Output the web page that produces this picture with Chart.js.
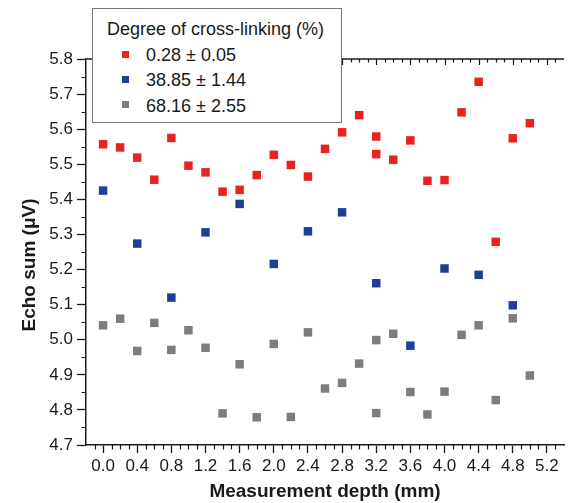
<!DOCTYPE html>
<html>
<head>
<meta charset="utf-8">
<title>Echo sum vs measurement depth</title>
<script src="https://cdn.jsdelivr.net/npm/chart.js@4.4.1/dist/chart.umd.min.js"></script>
<style>
  html, body { margin: 0; padding: 0; background: #fff; }
  #wrap { position: relative; width: 570px; height: 503px; }
  #legend {
    position: absolute; left: 92px; top: 8px; width: 248px; height: 113px;
    border: 1.3px solid #777; background: #fff;
    font-family: "Liberation Sans", Arial, sans-serif; color: #1a1a1a;
  }
  #legend .ttl { position: absolute; left: 14px; top: 10px; font-size: 18px; white-space: nowrap; }
  #legend .row { position: absolute; left: 29px; height: 22px; line-height: 22px; font-size: 18px; white-space: nowrap; }
  #legend .sw { display: inline-block; width: 7px; height: 7px; margin-right: 17px; vertical-align: middle; position: relative; top: -2px; }
</style>
</head>
<body>
<div id="wrap">
  <canvas id="chartEcho" width="570" height="503"></canvas>
  <div id="legend"></div>
</div>
<script>
// dados
const LEGEND_TITLE = "Degree of cross-linking (%)";
const SERIES_LABELS = ["0.28 \u00b1 0.05", "38.85 \u00b1 1.44", "68.16 \u00b1 2.55"];
const SERIES_COLORS = ["#e8231e", "#1f3e98", "#7d7d7d"];

const RED_X = [0.0, 0.2, 0.4, 0.6, 0.8, 1.0, 1.2, 1.4, 1.6, 1.8, 2.0, 2.2, 2.4, 2.6, 2.8, 3.0, 3.2, 3.2, 3.4, 3.6, 3.8, 4.0, 4.2, 4.4, 4.6, 4.8, 5.0];
const RED_Y = [5.557, 5.548, 5.519, 5.456, 5.575, 5.496, 5.477, 5.422, 5.427, 5.469, 5.527, 5.498, 5.465, 5.544, 5.591, 5.640, 5.579, 5.529, 5.513, 5.568, 5.453, 5.455, 5.648, 5.735, 5.279, 5.574, 5.617];

const BLUE_X = [0.0, 0.4, 0.8, 1.2, 1.6, 2.0, 2.4, 2.8, 3.2, 3.6, 4.0, 4.4, 4.8];
const BLUE_Y = [5.425, 5.274, 5.120, 5.306, 5.387, 5.216, 5.309, 5.363, 5.161, 4.983, 5.203, 5.185, 5.098];

const GRAY_X = [0.0, 0.2, 0.4, 0.6, 0.8, 1.0, 1.2, 1.4, 1.6, 1.8, 2.0, 2.2, 2.4, 2.6, 2.8, 3.0, 3.2, 3.2, 3.4, 3.6, 3.8, 4.0, 4.2, 4.4, 4.6, 4.8, 5.0];
const GRAY_Y = [5.041, 5.060, 4.968, 5.048, 4.971, 5.027, 4.977, 4.790, 4.930, 4.779, 4.988, 4.780, 5.021, 4.861, 4.877, 4.932, 4.999, 4.791, 5.017, 4.851, 4.787, 4.852, 5.014, 5.041, 4.828, 5.061, 4.898];

const X_TICKS = [0.0, 0.4, 0.8, 1.2, 1.6, 2.0, 2.4, 2.8, 3.2, 3.6, 4.0, 4.4, 4.8, 5.2];
const Y_TICKS = [4.7, 4.8, 4.9, 5.0, 5.1, 5.2, 5.3, 5.4, 5.5, 5.6, 5.7, 5.8];

const X_TITLE = "Measurement depth (mm)";
const Y_TITLE = "Echo sum (\u03bcV)";

const FONT = "'Liberation Sans', Arial, Helvetica, sans-serif";
const AXIS_COLOR = "#1a1a1a";

function pares(xs, ys) {
  return xs.map(function (x, i) { return { x: x, y: ys[i] }; });
}

// eixo de cima, ticks menores e título do eixo y
const decoEixos = {
  id: "decoEixos",
  afterDraw: function (chart) {
    var ctx = chart.ctx;
    var a = chart.chartArea;
    var sx = chart.scales.x;
    var sy = chart.scales.y;
    ctx.save();
    ctx.strokeStyle = AXIS_COLOR;
    ctx.lineWidth = 1.5;
    ctx.beginPath();
    ctx.moveTo(a.left, a.top);
    ctx.lineTo(a.right, a.top);
    ctx.stroke();

    ctx.lineWidth = 1.2;
    ctx.beginPath();
    for (var i = -1; i <= 53; i++) {
      var px = Math.round(sx.getPixelForValue(i / 10)) + 0.5;
      var major = i >= 0 && i % 4 === 0;
      // topo, para dentro
      ctx.moveTo(px, a.top);
      ctx.lineTo(px, a.top + (major ? 6 : 3.5));
      // embaixo, menores
      if (!major) {
        ctx.moveTo(px, a.bottom);
        ctx.lineTo(px, a.bottom + 4.5);
      }
    }
    for (var j = 0; j < 11; j++) {
      var py = Math.round(sy.getPixelForValue(4.75 + j / 10)) + 0.5;
      ctx.moveTo(a.left, py);
      ctx.lineTo(a.left - 4.5, py);
    }
    ctx.stroke();

    ctx.translate(30, 265);
    ctx.rotate(-Math.PI / 2);
    ctx.fillStyle = AXIS_COLOR;
    ctx.font = "bold 19px " + FONT;
    ctx.textAlign = "center";
    ctx.textBaseline = "middle";
    ctx.fillText(Y_TITLE, 0, 0);
    ctx.restore();
  }
};

document.addEventListener("DOMContentLoaded", function () {
  if (typeof Chart === "undefined") {
    console.error("Chart.js não carregou");
    return;
  }
  Chart.defaults.font.family = FONT;
  Chart.defaults.color = AXIS_COLOR;

  var series = [pares(RED_X, RED_Y), pares(BLUE_X, BLUE_Y), pares(GRAY_X, GRAY_Y)];

  var ctx = document.getElementById("chartEcho").getContext("2d");
  var chart = new Chart(ctx, {
    type: "scatter",
    data: {
      datasets: series.map(function (d, i) {
        return {
          label: SERIES_LABELS[i],
          data: d,
          pointStyle: "rect",
          pointRadius: 6,
          pointHoverRadius: 6,
          borderWidth: 0,
          backgroundColor: SERIES_COLORS[i],
          borderColor: SERIES_COLORS[i]
        };
      })
    },
    options: {
      responsive: false,
      animation: false,
      layout: { padding: { top: 59, right: 1, left: 0, bottom: 0 } },
      plugins: {
        legend: { display: false },
        tooltip: { enabled: false }
      },
      scales: {
        x: {
          type: "linear",
          min: -0.2,
          max: 5.4,
          afterFit: function (s) { s.height = 58; },
          afterBuildTicks: function (s) {
            s.ticks = X_TICKS.map(function (v) { return { value: v }; });
          },
          ticks: {
            font: { size: 17 },
            padding: 3,
            maxRotation: 0,
            autoSkip: false,
            callback: function (v) { return Number(v).toFixed(1); }
          },
          grid: {
            drawOnChartArea: false,
            drawTicks: true,
            tickLength: 8,
            tickColor: AXIS_COLOR,
            tickWidth: 1.3
          },
          border: { display: true, color: AXIS_COLOR, width: 1.5 },
          title: {
            display: true,
            text: X_TITLE,
            font: { size: 19, weight: "bold" },
            padding: { top: 0, bottom: 0 }
          }
        },
        y: {
          type: "linear",
          min: 4.7,
          max: 5.8,
          afterFit: function (s) { s.width = 86; },
          afterBuildTicks: function (s) {
            s.ticks = Y_TICKS.map(function (v) { return { value: v }; });
          },
          ticks: {
            font: { size: 17 },
            padding: 4,
            autoSkip: false,
            callback: function (v) { return Number(v).toFixed(1); }
          },
          grid: {
            drawOnChartArea: false,
            drawTicks: true,
            tickLength: 9,
            tickColor: AXIS_COLOR,
            tickWidth: 1.3
          },
          border: { display: true, color: AXIS_COLOR, width: 1.5 }
        }
      }
    },
    plugins: [decoEixos]
  });

  // legenda em HTML por cima do gráfico
  var leg = document.getElementById("legend");
  var t = document.createElement("div");
  t.className = "ttl";
  t.textContent = LEGEND_TITLE;
  leg.appendChild(t);
  chart.data.datasets.forEach(function (ds, i) {
    var row = document.createElement("div");
    row.className = "row";
    row.style.top = (35 + i * 25.3) + "px";
    var sw = document.createElement("span");
    sw.className = "sw";
    sw.style.background = ds.backgroundColor;
    row.appendChild(sw);
    row.appendChild(document.createTextNode(ds.label));
    leg.appendChild(row);
  });
});
</script>
</body>
</html>
